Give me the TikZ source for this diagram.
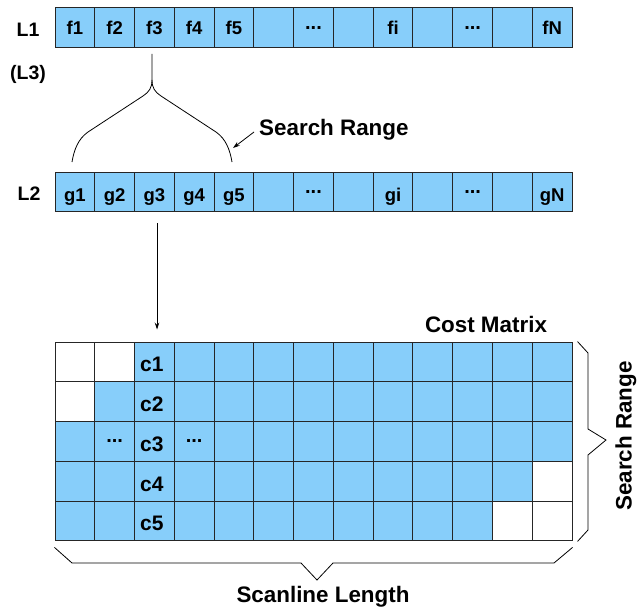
\documentclass[tikz,border=0pt]{standalone}
\usepackage{fontspec}
\setmainfont{Liberation Sans}
\usetikzlibrary{arrows.meta}
\definecolor{cellblue}{RGB}{135,206,250}
\begin{document}
\begin{tikzpicture}[x=1pt,y=-1pt,
  cell/.style={draw=black!85, line width=1pt, fill=cellblue, minimum width=39.77pt,
    minimum height=39.7pt, inner sep=0pt},
  flbl/.style={font=\fontsize{18.5}{20}\selectfont\bfseries, inner sep=0pt, anchor=base},
  clbl/.style={font=\fontsize{21}{22}\selectfont\bfseries, inner sep=0pt, anchor=base},
  dots/.style={font=\fontsize{20}{22}\selectfont\bfseries, inner sep=0pt},
  rlbl/.style={font=\fontsize{19.5}{22}\selectfont\bfseries, inner sep=0pt},
  captxt/.style={font=\fontsize{22.4}{24}\selectfont\bfseries, inner sep=0pt},
  brace/.style={line width=0.8pt},
  arr/.style={line width=0.8pt, -{Stealth[length=7pt,width=4.5pt]}}
]
\useasboundingbox (0,0) rectangle (638,608);

% L1 and L2 rows
\foreach \i in {1,...,13} {
  \node[cell] (f\i) at ({55+39.77*(\i-0.5)},27.6) {};
  \node[cell] (g\i) at ({55+39.77*(\i-0.5)},192) {};
}
\foreach \i/\t in {1/f1,2/f2,3/f3,4/f4,5/f5,9/fi,13/fN}
  \node[flbl] (tf\i) at ([yshift=13pt]f\i.south) {\t};
\foreach \i/\t in {1/g1,2/g2,3/g3,4/g4,5/g5,9/gi,13/gN}
  \node[flbl] (tg\i) at ([yshift=10.5pt]g\i.south) {\t};
\foreach \i in {7,11} {
  \node[dots] (df\i) at (f\i) {...};
  \node[dots] (dg\i) at (g\i) {...};
}

% row labels
\node[rlbl] (l1) at (28,30) {L1};
\node[rlbl] (l3) at (28,74) {(L3)};
\node[rlbl] (l2) at (29,194) {L2};

% cost matrix
\foreach \r in {1,...,5}
  \foreach \c in {1,...,13} {
    \pgfmathtruncatemacro\isw{((\r==1)&&(\c<=2))||((\r==2)&&(\c==1))||((\r==4)&&(\c==13))||((\r==5)&&(\c>=12)) ? 1 : 0}
    \ifnum\isw=1 \def\fc{white}\else\def\fc{cellblue}\fi
    \node[cell, fill=\fc] (m\r-\c) at ({55+39.77*(\c-0.5)},{342+39.8*(\r-0.5)}) {};
  }
\foreach \r in {1,...,5}
  \node[clbl] (c\r) at ([xshift=-2.5pt,yshift=10.5pt]m\r-3.south) {c\r};
\node[dots] (d1) at (m3-2) {...};
\node[dots] (d2) at (m3-4) {...};

% captions
\node[captxt, anchor=west] (sr) at (259,130) {Search Range};
\node[captxt] (cm) at (486,324) {Cost Matrix};
\node[captxt] (sl) at (323,597) {Scanline Length};
\node[captxt, rotate=90] (sr2) at (626,436) {Search Range};

% top brace
\coordinate (tip) at (152,80);
\draw[brace] ([xshift=-2.4pt,yshift=-6pt]f3.south) -- (tip);
\draw[brace] (tip) .. controls (152,88) and (149,92) .. (143,96) -- (88,132)
   .. controls (78,139) and (74,150) .. (72,162);
\draw[brace] (tip) .. controls (152,88) and (155,92) .. (161,96) -- (216,132)
   .. controls (226,139) and (230,150) .. (232,162);
\coordinate (sra) at (233,148);
\draw[arr] ([xshift=-5pt,yshift=-2pt]sr.west) -- (sra);

% g3 -> matrix arrow
\draw[arr] ([xshift=2.6pt,yshift=-11pt]g3.south) -- ([xshift=2.6pt,yshift=12pt]m1-3.north);

% right brace
\draw[brace] ([xshift=5pt]m1-13.north east) -- (588,353) -- (588,429) -- (606,440)
   -- (588,455) -- (588,530) -- ([xshift=5pt]m5-13.south east);

% bottom brace
\draw[brace] ([yshift=-6pt]m5-1.south west) -- (72,563) -- (301,563) -- (317,580)
   -- (333,563) -- (554,563) -- ([yshift=-6pt]m5-13.south east);
\end{tikzpicture}
\end{document}
